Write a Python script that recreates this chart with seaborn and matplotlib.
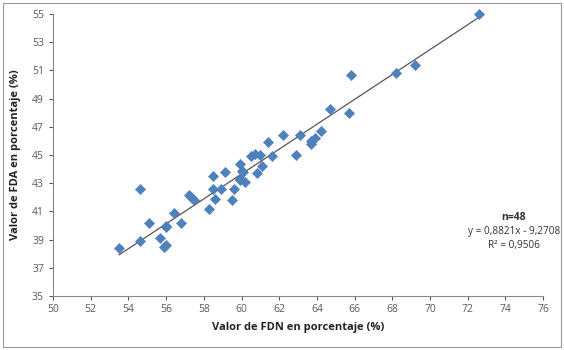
import matplotlib
matplotlib.use("Agg")
import numpy as np
import pandas as pd
import matplotlib.pyplot as plt
import seaborn as sns
from matplotlib.patches import Rectangle

# FDN (x) and FDA (y) values
fdn = [53.5, 54.6, 54.6, 55.1, 55.7, 55.9, 56.0, 56.0, 56.0, 56.4,
       56.8, 57.2, 57.3, 57.5, 58.3, 58.5, 58.5, 58.6, 58.9, 59.1,
       59.5, 59.6, 59.9, 59.9, 59.9, 60.0, 60.1, 60.2, 60.5, 60.7,
       60.8, 61.0, 61.1, 61.4, 61.6, 62.2, 62.9, 63.1, 63.7, 63.7,
       63.9, 64.2, 64.7, 65.7, 65.8, 68.2, 69.2, 72.6]
fda = [38.4, 42.6, 38.9, 40.2, 39.1, 38.5, 38.6, 39.9, 40.0, 40.9,
       40.2, 42.2, 42.0, 41.8, 41.2, 43.5, 42.6, 41.9, 42.6, 43.8,
       41.8, 42.6, 44.4, 43.3, 43.2, 43.9, 43.8, 43.1, 44.9, 45.1,
       43.7, 45.0, 44.2, 45.9, 44.9, 46.4, 45.0, 46.4, 45.8, 46.0,
       46.2, 46.7, 48.3, 48.0, 50.7, 50.8, 51.4, 55.0]

slope = 0.8821
intercept = -9.2708
r2 = 0.9506

x_ticks = list(range(50, 77, 2))
y_ticks = list(range(35, 56, 2))

df = pd.DataFrame({"FDN": fdn, "FDA": fda})

sns.set_style("white")
plt.rcParams["font.family"] = ["Open Sans", "DejaVu Sans"]

fig = plt.figure(figsize=(5.64, 3.5), dpi=100)
ax = fig.add_axes([0.094, 0.154, 0.869, 0.806])

# scatter points
sns.scatterplot(data=df, x="FDN", y="FDA", marker="D", s=28, color="#4F81BD",
                edgecolor="#4A7AB3", linewidth=0.3, ax=ax, zorder=3, clip_on=False)

# trend line
line_x = np.array([min(fdn), 72.9])
ax.plot(line_x, slope * line_x + intercept, color="#555555", linewidth=0.9, zorder=2)

ax.set_xlim(50, 76)
ax.set_ylim(35, 55)
ax.set_xticks(x_ticks)
ax.set_yticks(y_ticks)
ax.tick_params(axis="both", labelsize=7.5, colors="#595959", length=3, width=0.8,
               direction="out", bottom=True, left=True)
ax.tick_params(axis="x", pad=3)

for side in ["top", "right"]:
    ax.spines[side].set_visible(False)
for side in ["left", "bottom"]:
    ax.spines[side].set_color("#888888")
    ax.spines[side].set_linewidth(0.8)

ax.set_xlabel("Valor de FDN en porcentaje (%)", fontsize=8, fontweight="bold",
              color="#222222", labelpad=5)
ax.set_ylabel("Valor de FDA en porcentaje (%)", fontsize=8, fontweight="bold",
              color="#222222", labelpad=8)

# equation box
ax.text(0.94, 0.277, "n=48", transform=ax.transAxes, ha="center", va="center",
        fontsize=7.5, fontweight="bold", color="#333333")
ax.text(0.94, 0.228, "y = 0,8821x - 9,2708", transform=ax.transAxes, ha="center",
        va="center", fontsize=7.2, color="#333333")
ax.text(0.94, 0.178, "R² = 0,9506", transform=ax.transAxes, ha="center",
        va="center", fontsize=7.2, color="#333333")

# chart area border
fig.patches.append(Rectangle((0.006, 0.01), 0.988, 0.982, transform=fig.transFigure,
                             fill=False, edgecolor="#999999", linewidth=0.8))

fig.savefig("out.png", dpi=100)
